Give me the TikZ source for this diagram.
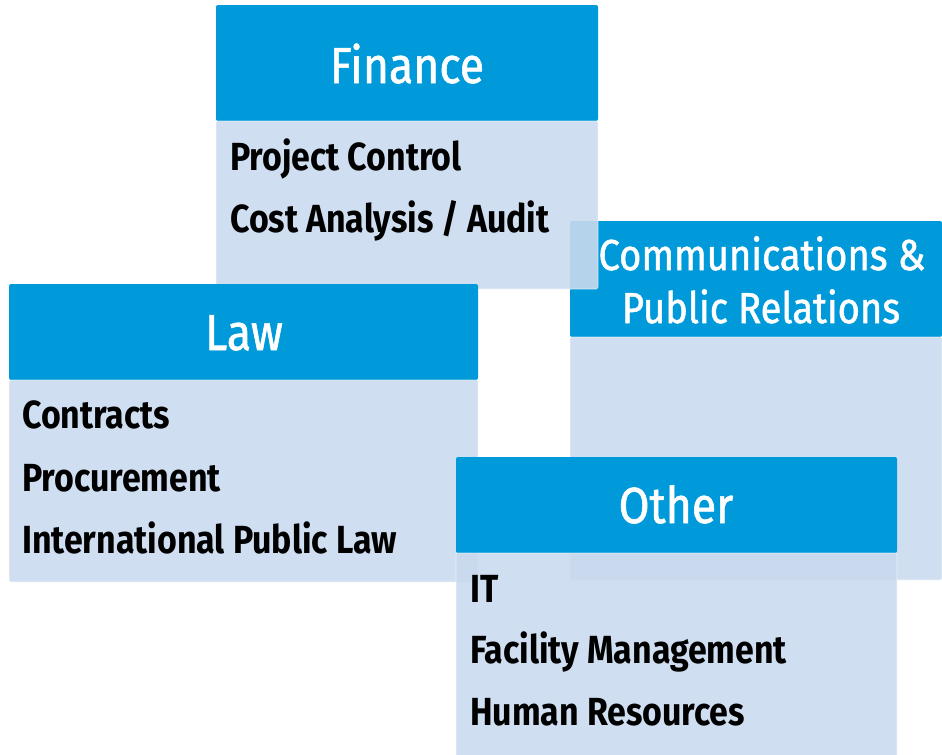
\documentclass[tikz,border=0pt]{standalone}
\usepackage{fontspec}
\setmainfont{Fira Sans}[FakeStretch=0.865]
\newfontfamily\headfont{Fira Sans}[FakeStretch=0.88,FakeBold=1.2]
\definecolor{hdblue}{RGB}{0,154,218}
\definecolor{bdblue}{RGB}{202,218,238}
\tikzstyle{head}=[fill=hdblue,rounded corners=1.5pt]
\tikzstyle{body}=[fill=bdblue,fill opacity=0.9,draw=white,draw opacity=0.35,line width=0.8pt,rounded corners=1.5pt]
\tikzstyle{title}=[text=white,anchor=base,inner sep=0pt,font=\headfont\fontsize{38}{40}\selectfont]
\tikzstyle{subtitle}=[text=white,anchor=base,inner sep=0pt,font=\headfont\fontsize{32.5}{34}\selectfont]
\tikzstyle{item}=[text=black,anchor=base west,inner sep=0pt,font=\fontsize{29.4}{32}\selectfont\bfseries]

\begin{document}
\begin{tikzpicture}[x=0.75pt,y=-0.75pt]
\useasboundingbox (0,0) rectangle (942,754);
% communications
\fill[head] (570,221) rectangle (942,337);
\draw[body] (570,337) rectangle (942,580);
\node[subtitle] (comtop) at (762,270) {Communications \&};
\node[subtitle] (combot) at (761,323) {Public Relations};
% finance
\fill[head] (216,5) rectangle (598,121);
\draw[body] (216,121) rectangle (598,289);
\node[title] (fintitle) at (407,83) {Finance};
\node[item] (project) at (230,170) {Project Control};
\node[item] (cost) at (230,232) {Cost Analysis / Audit};
% law
\fill[head] (9,284) rectangle (478,380);
\draw[body] (9,380) rectangle (478,582);
\node[title] (lawtitle) at (244,350) {Law};
\node[item] (contracts) at (22,428) {Contracts};
\node[item] (procure) at (22,491) {Procurement};
\node[item] (intlaw) at (22,553) {International Public Law};
% other
\fill[head] (456,457) rectangle (897,553);
\draw[body] (456,553) rectangle (897,760);
\node[title] (othtitle) at (676,523) {Other};
\node[item] (it) at (470,602) {IT};
\node[item] (facility) at (470,663) {Facility Management};
\node[item] (human) at (470,725) {Human Resources};
\end{tikzpicture}
\end{document}
